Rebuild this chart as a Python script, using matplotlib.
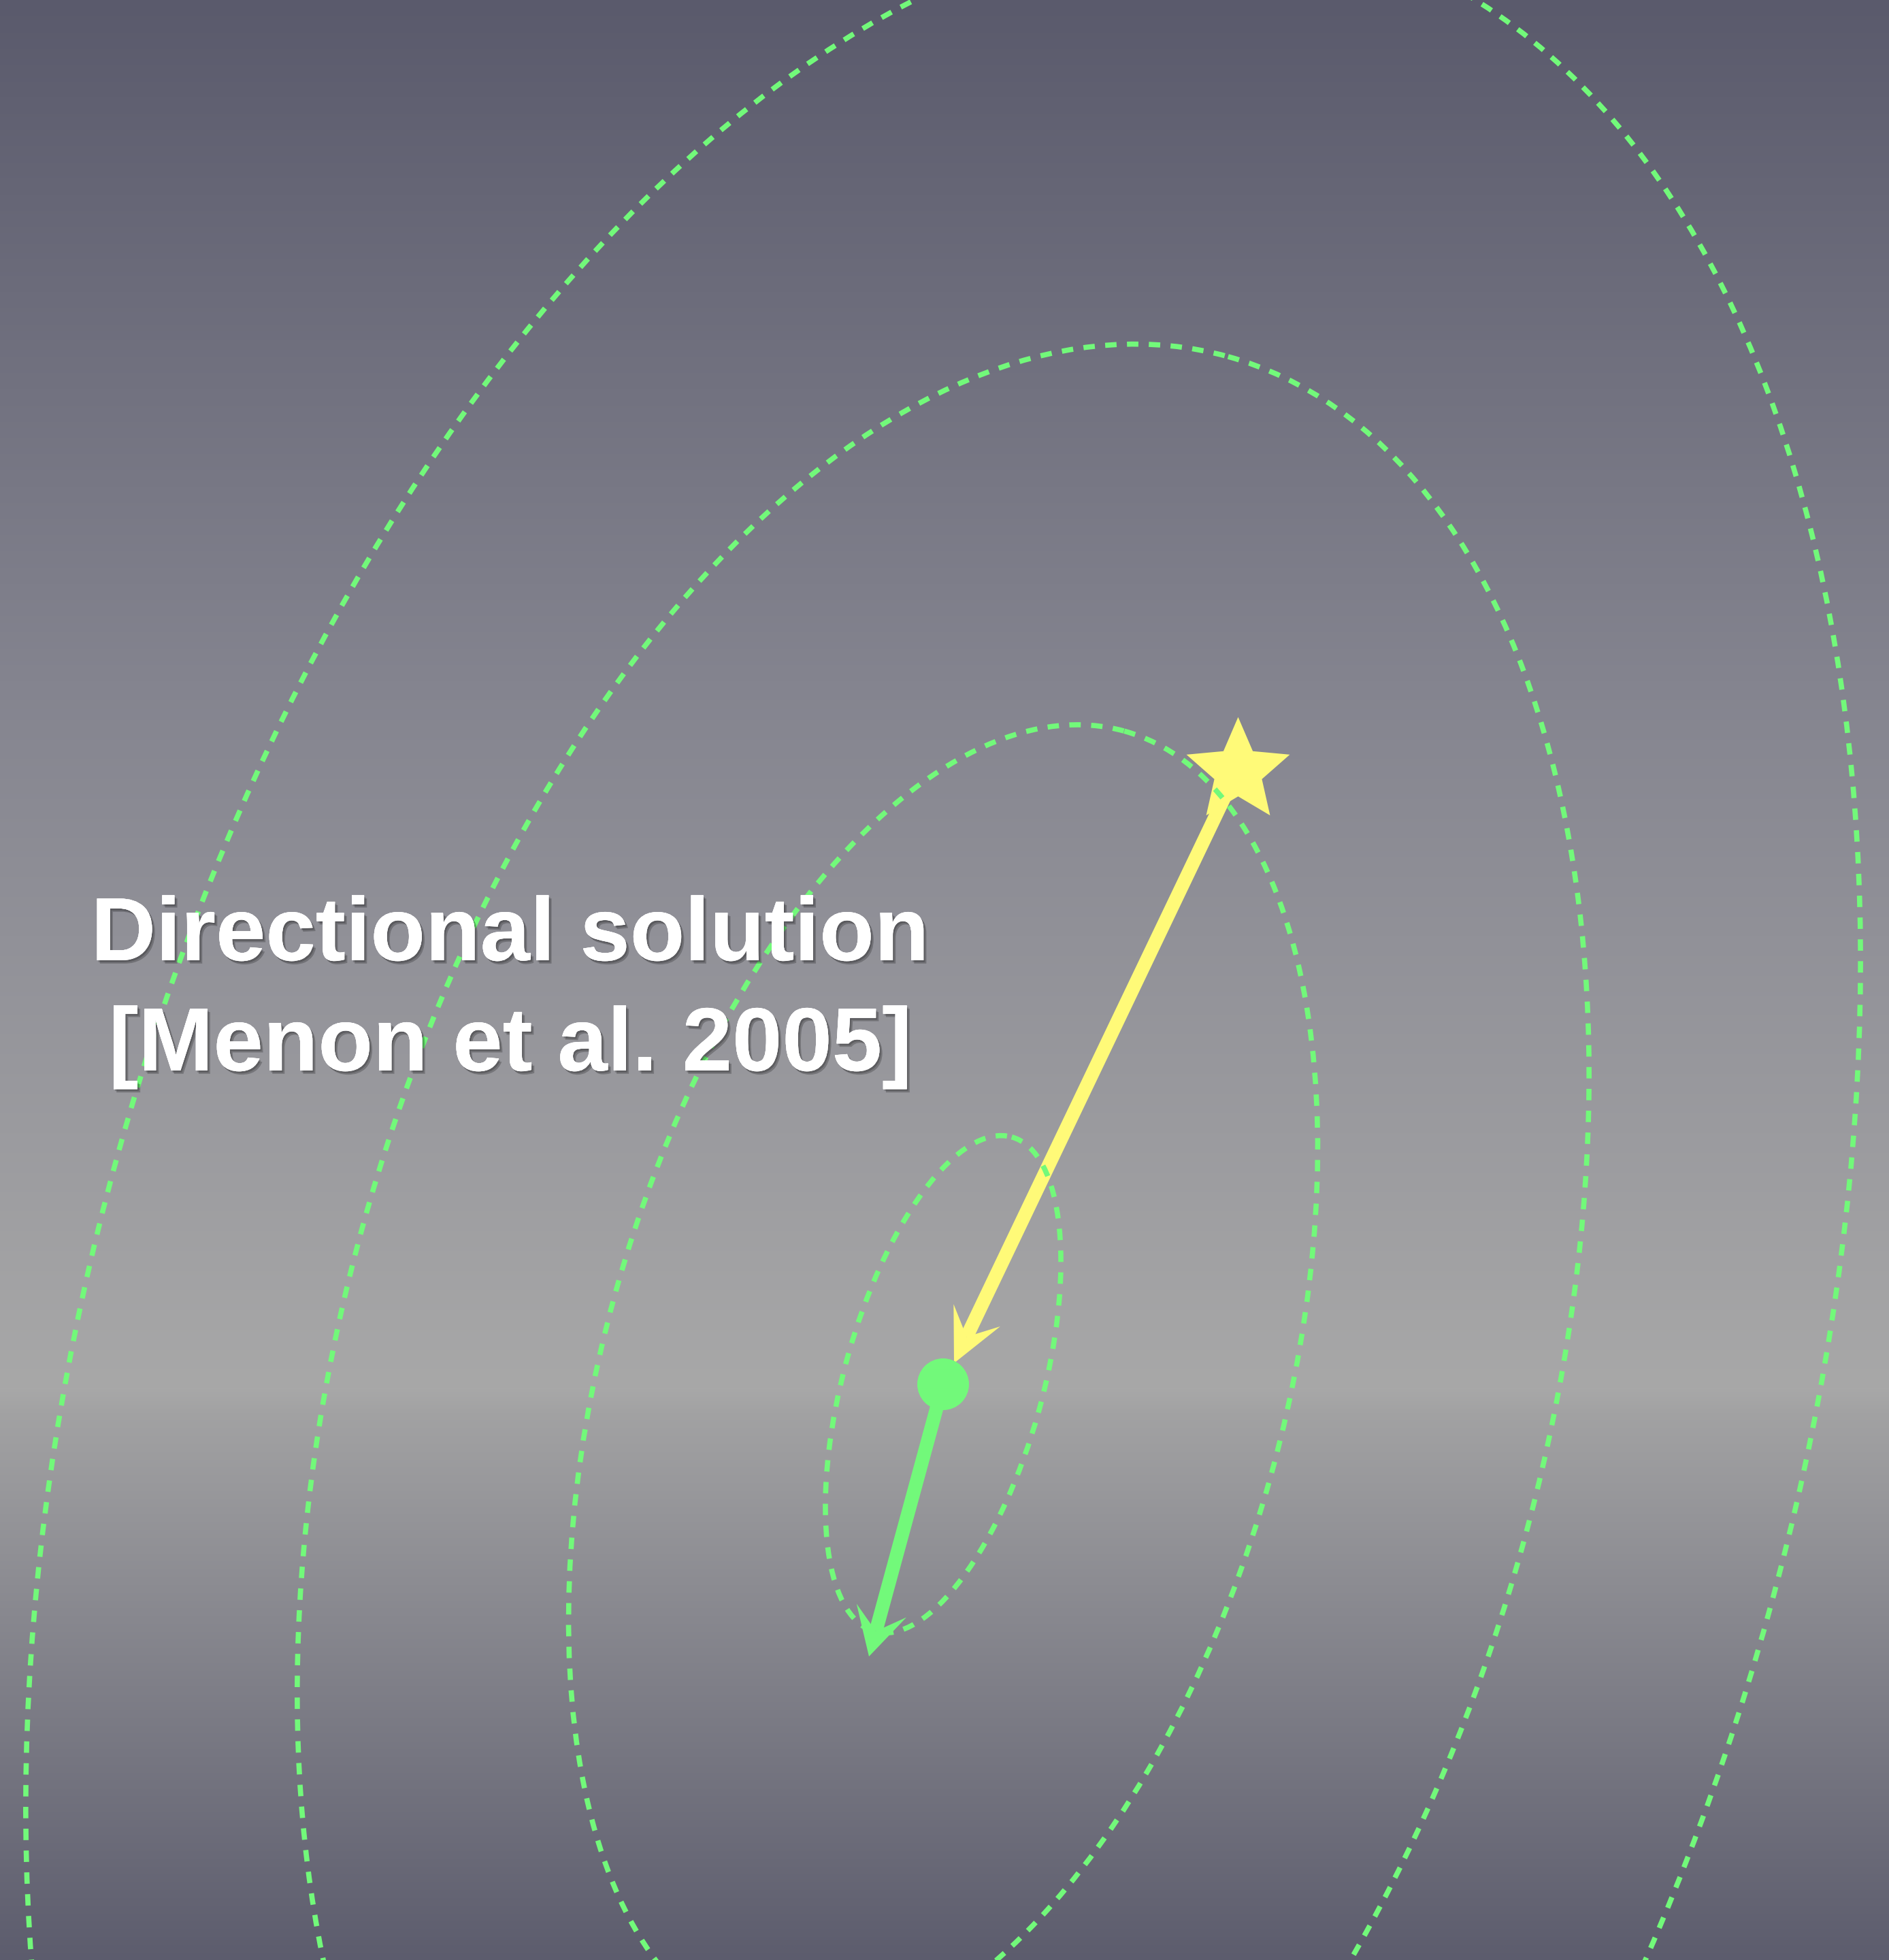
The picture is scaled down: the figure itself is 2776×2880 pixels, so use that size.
import numpy as np
import matplotlib
matplotlib.use("Agg")
import matplotlib.pyplot as plt
import matplotlib.patheffects as pe
from matplotlib.patches import Ellipse, Circle, Polygon
from matplotlib.path import Path

W, H = 2776, 2880

# background gradient stops (pixel row, rgb)
bg_rows = [0, 1000, 2040, 2075, 2880]
bg_cols = [(90, 90, 108), (132, 132, 143), (168, 168, 168), (162, 162, 163), (92, 92, 109)]

# error ellipses around the solution (pixels)
center = (1386, 2034)
ring_a = [377, 996, 1567, 2200]
ring_b = [146, 500, 884, 1259]
ring_tilt = 15.5

# source star and solution
star_xy = (1819, 1133)
yellow_tail = (1805, 1160)
yellow_tip = (1402, 2003)
green_tail = (1386, 2034)
green_tip = (1277, 2434)

label_lines = ["Directional solution", "[Menon et al. 2005]"]
label_x = 750
label_y = [1411, 1573]

yellow = "#fffa78"
green = "#72f97a"

fig = plt.figure(figsize=(W / 100, H / 100), dpi=100)
ax = fig.add_axes([0, 0, 1, 1])
ax.set_xlim(0, W)
ax.set_ylim(H, 0)
ax.axis("off")

rows = np.arange(H)
grad = np.stack([np.interp(rows, bg_rows, [c[i] for c in bg_cols]) for i in range(3)], axis=-1) / 255
grad = np.repeat(grad[:, None, :], 4, axis=1)
ax.imshow(grad, extent=[0, W, H, 0], aspect="auto", zorder=0)


def arrow(tail, tip, color, lw_px=20, head_len=70, head_w=36, notch=0.55):
    tail = np.array(tail, float)
    tip = np.array(tip, float)
    u = (tip - tail) / np.linalg.norm(tip - tail)
    n = np.array([-u[1], u[0]])
    back = tip - u * head_len
    neck = tip - u * head_len * notch
    ax.plot([tail[0], neck[0]], [tail[1], neck[1]], color=color, lw=lw_px * 0.72,
            solid_capstyle="butt", zorder=2)
    head = [tip, back + n * head_w, neck, back - n * head_w]
    ax.add_patch(Polygon(head, closed=True, color=color, lw=0, zorder=2))


arrow(yellow_tail, yellow_tip, yellow, head_len=78, head_w=38)
star = Path.unit_regular_star(5, innerCircle=0.46)
ax.plot(*star_xy, marker=star, ms=115, color=yellow, mec="none", zorder=3)

arrow(green_tail, green_tip, green, head_len=70, head_w=38)
ax.add_patch(Circle(center, 38, color=green, lw=0, zorder=3))

for a, b in zip(ring_a, ring_b):
    ax.add_patch(Ellipse(center, 2 * b, 2 * a, angle=ring_tilt, fill=False,
                         ec=green, lw=5.5, linestyle=(0, (2.2, 2.0)), zorder=4))

shadow = [pe.withSimplePatchShadow(offset=(3, -3.5), shadow_rgbFace="black", alpha=0.22),
          pe.withSimplePatchShadow(offset=(1.5, -2), shadow_rgbFace="black", alpha=0.2),
          pe.Normal()]
for line, y in zip(label_lines, label_y):
    ax.text(label_x, y, line, ha="center", va="baseline", color="white",
            fontsize=95, fontweight="bold", family=["Liberation Sans", "DejaVu Sans"],
            path_effects=shadow, zorder=5)

fig.savefig("out.png", dpi=100)
